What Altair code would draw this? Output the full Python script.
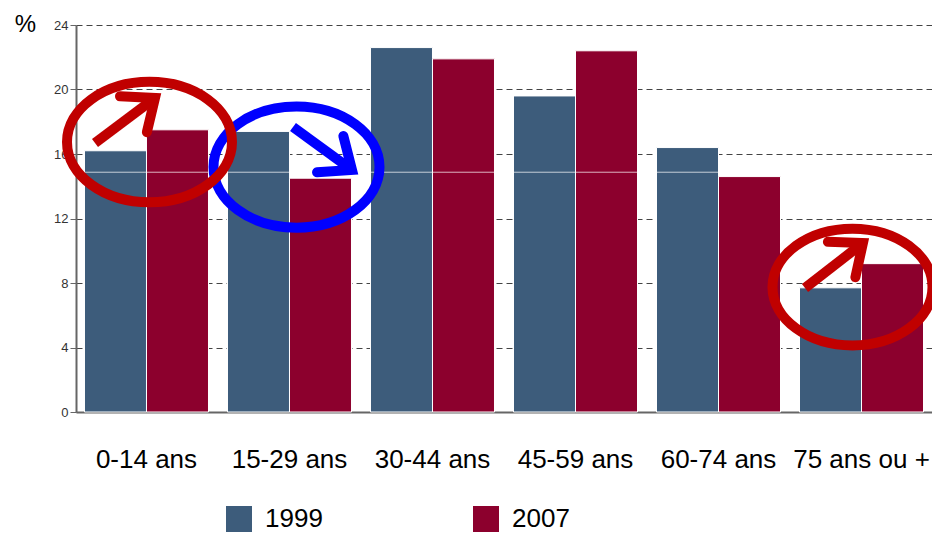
import math
import altair as alt
import pandas as pd

# ---------------- data ----------------
ages = ["0-14 ans", "15-29 ans", "30-44 ans", "45-59 ans", "60-74 ans", "75 ans ou +"]
years = ["1999", "2007"]
v1999 = [16.2, 17.4, 22.6, 19.6, 16.4, 7.7]
v2007 = [17.5, 14.5, 21.9, 22.4, 14.6, 9.2]
y_ticks = [0, 4, 8, 12, 16, 20, 24]

# annotations, in (age-group index, percent) coordinates
ell_u = [1.049, 0.021, 4.937]
ell_v = [15.19, 16.74, 7.75]
ell_color = ["#0000ff", "#c00000", "#c00000"]
arr_u0 = [-0.360, 1.0245, 4.605]
arr_v0 = [16.68, 17.67, 7.69]
arr_u1 = [0.0594, 1.437, 5.010]
arr_v1 = [19.47, 15.01, 10.48]
arr_color = ["#c00000", "#0000ff", "#c00000"]
artifact_line = [14.87]

# ---------------- styling ----------------
SANS = "Liberation Sans, Arial, sans-serif"
PLOT_W, PLOT_H = 856, 387
U_DOMAIN = [-70.5 / 143, (PLOT_W - 70.5) / 143]
PX_PER_U = 143.0
PX_PER_V = PLOT_H / 24.0

rows = []
for a, y1, y2 in zip(ages, v1999, v2007):
    rows.append({"age": a, "year": "1999", "value": y1})
    rows.append({"age": a, "year": "2007", "value": y2})
df = pd.DataFrame(rows)

bars = alt.Chart(df).mark_bar(stroke="white", strokeWidth=1).encode(
    x=alt.X(
        "age:N",
        sort=ages,
        scale=alt.Scale(paddingInner=0.1329, paddingOuter=0.0594),
        axis=alt.Axis(
            title=None, labelAngle=0, labelFont=SANS, labelFontSize=26,
            labelColor="black", labelPadding=34, ticks=False,
            domainColor="#666666", domainWidth=2, grid=False, labelLimit=300,
        ),
    ),
    xOffset=alt.XOffset("year:N", sort=years,
                        scale=alt.Scale(paddingInner=0, paddingOuter=0)),
    y=alt.Y(
        "value:Q",
        scale=alt.Scale(domain=[0, 24], nice=False),
        axis=alt.Axis(
            values=y_ticks, title="%", titleAngle=0, titleX=-51, titleY=6,
            titleAlign="center", titleBaseline="alphabetic", titleFont=SANS,
            titleFontSize=24, titleFontWeight="normal", titleColor="black",
            labelFont=SANS, labelFontSize=13, labelColor="#333333",
            labelPadding=2, tickSize=6, tickColor="#666666",
            domainColor="#666666", domainWidth=2,
            grid=True, gridDash=[6, 4], gridColor="#444444", gridWidth=1,
        ),
    ),
    color=alt.Color(
        "year:N",
        scale=alt.Scale(domain=years, range=["#3d5c7b", "#8c002d"]),
        legend=alt.Legend(
            title=None, orient="none", legendX=150, legendY=481,
            direction="horizontal", columns=2, symbolType="square",
            symbolSize=676, symbolStrokeWidth=0, labelFont=SANS,
            labelFontSize=26, labelColor="black", labelOffset=13,
            columnPadding=150, padding=0, labelLimit=300,
        ),
    ),
)

artifact = alt.Chart(pd.DataFrame({"v": artifact_line})).mark_rule(
    color="white", strokeWidth=1, opacity=0.7
).encode(y="v:Q")

# ellipse outline (unit rx=1, ry=b) as cubic Beziers
b = 0.73
k = 0.5523
ellipse_path = (
    f"M -1 0 C -1 {-k*b:.4f} {-k:.4f} {-b} 0 {-b} "
    f"C {k:.4f} {-b} 1 {-k*b:.4f} 1 0 "
    f"C 1 {k*b:.4f} {k:.4f} {b} 0 {b} "
    f"C {-k:.4f} {b} -1 {k*b:.4f} -1 0 Z"
)
ell_df = pd.DataFrame({
    "u": ell_u, "v": ell_v, "c": ell_color,
    "s": [166 ** 2, 165 ** 2, 160 ** 2],
})
xq = alt.X("u:Q", scale=alt.Scale(domain=U_DOMAIN, nice=False, zero=False), axis=None)

ellipses = alt.Chart(ell_df).mark_point(
    shape=ellipse_path, filled=False, strokeWidth=10, opacity=1
).encode(
    x=xq, y=alt.Y("v:Q"),
    color=alt.Color("c:N", scale=None),
    size=alt.Size("s:Q", scale=None),
)

angles = []
for u0, v0, u1, v1 in zip(arr_u0, arr_v0, arr_u1, arr_v1):
    dx = (u1 - u0) * PX_PER_U
    dy = -(v1 - v0) * PX_PER_V
    angles.append(math.degrees(math.atan2(dy, dx)) % 360)

arr_df = pd.DataFrame({
    "u": arr_u0, "v": arr_v0, "u2": arr_u1, "v2": arr_v1,
    "c": arr_color, "a": angles,
})
shafts = alt.Chart(arr_df).mark_rule(strokeWidth=10, strokeCap="butt").encode(
    x=xq, y=alt.Y("v:Q"), x2="u2:Q", y2="v2:Q",
    color=alt.Color("c:N", scale=None),
)
chevron = "M -0.77 -0.64 L 0 0 L -0.77 0.64"
heads = alt.Chart(arr_df).mark_point(
    shape=chevron, filled=False, strokeWidth=10, opacity=1,
    strokeCap="round", strokeJoin="miter", size=70 ** 2,
).encode(
    x=alt.X("u2:Q", scale=alt.Scale(domain=U_DOMAIN, nice=False, zero=False), axis=None),
    y=alt.Y("v2:Q"),
    color=alt.Color("c:N", scale=None),
    angle=alt.Angle("a:Q", scale=None),
)

chart = (
    alt.layer(bars, artifact, ellipses, shafts, heads)
    .resolve_scale(x="independent")
    .properties(
        width=PLOT_W, height=PLOT_H,
        autosize=alt.AutoSizeParams(type="none"),
        padding={"left": 68, "top": 17, "right": 0, "bottom": 126},
        background="white",
    )
    .configure_view(stroke=None)
)

chart.save("out.html", embed_options={"renderer": "svg", "actions": False})
